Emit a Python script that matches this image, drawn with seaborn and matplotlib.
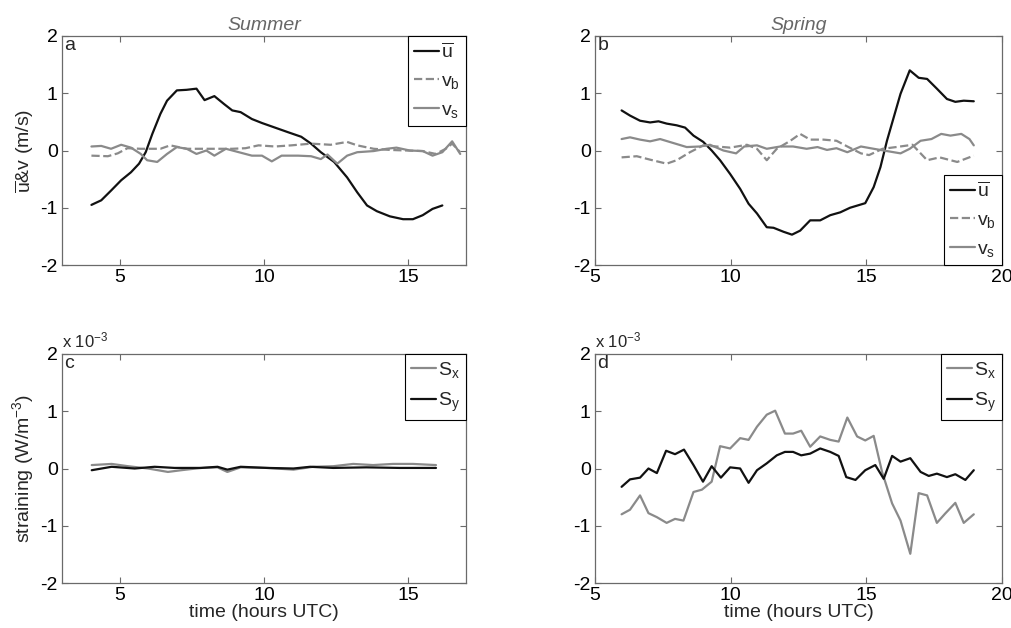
import matplotlib
matplotlib.use("Agg")
import matplotlib.pyplot as plt
import seaborn as sns
import numpy as np

# ---------------- data ----------------
# Panel a (Summer)
a_u_t = [4.02, 4.36, 4.70, 5.05, 5.39, 5.67, 5.90, 6.13, 6.41, 6.64, 6.98, 7.32, 7.66, 7.94, 8.28, 8.62,
         8.90, 9.19, 9.58, 9.93, 10.38, 10.83, 11.29, 11.63, 11.97, 12.43, 12.88, 13.23, 13.57, 13.91,
         14.36, 14.82, 15.16, 15.50, 15.84, 16.18]
a_u = [-0.95, -0.87, -0.70, -0.52, -0.38, -0.23, -0.03, 0.29, 0.64, 0.87, 1.05, 1.06, 1.08, 0.88, 0.95, 0.81,
       0.70, 0.67, 0.55, 0.48, 0.40, 0.32, 0.24, 0.12, -0.03, -0.20, -0.47, -0.73, -0.96, -1.06,
       -1.15, -1.20, -1.20, -1.13, -1.02, -0.96]
a_vb_t = [4.02, 4.59, 4.93, 5.27, 5.73, 6.41, 6.75, 7.32, 8.11, 8.90, 9.36, 9.81, 10.38, 10.95, 11.63, 12.31,
          12.88, 13.23, 13.80, 14.36, 14.93, 15.50, 15.95, 16.30, 16.52, 16.80]
a_vb = [-0.09, -0.10, -0.05, 0.04, 0.03, 0.03, 0.09, 0.03, 0.03, 0.03, 0.04, 0.09, 0.07, 0.09, 0.12, 0.10,
        0.15, 0.09, 0.03, 0.01, 0.00, -0.01, -0.06, 0.03, 0.12, -0.03]
a_vs_t = [4.02, 4.36, 4.70, 5.05, 5.39, 5.73, 5.95, 6.30, 6.64, 6.98, 7.32, 7.66, 8.00, 8.28, 8.68, 9.13,
          9.58, 9.93, 10.27, 10.61, 11.18, 11.63, 11.97, 12.20, 12.54, 12.88, 13.23, 13.80, 14.25, 14.59,
          15.05, 15.50, 15.84, 16.18, 16.52, 16.80]
a_vs = [0.07, 0.08, 0.03, 0.10, 0.05, -0.06, -0.17, -0.20, -0.06, 0.06, 0.03, -0.06, 0.00, -0.09, 0.03, -0.03,
        -0.09, -0.09, -0.19, -0.09, -0.09, -0.10, -0.15, -0.07, -0.23, -0.09, -0.03, -0.01, 0.03, 0.05,
        0.00, -0.01, -0.09, -0.03, 0.16, -0.06]

# Panel b (Spring)
b_u_t = [5.98, 6.29, 6.66, 7.03, 7.34, 7.64, 8.01, 8.32, 8.63, 8.99, 9.30, 9.61, 9.98, 10.35, 10.66, 10.97,
         11.33, 11.58, 11.95, 12.26, 12.56, 12.93, 13.30, 13.67, 14.04, 14.40, 14.96, 15.27, 15.52, 15.76,
         16.01, 16.26, 16.60, 16.93, 17.24, 17.60, 17.97, 18.28, 18.59, 18.96]
b_u = [0.70, 0.61, 0.52, 0.49, 0.51, 0.47, 0.44, 0.40, 0.26, 0.15, 0.00, -0.17, -0.41, -0.67, -0.93, -1.10,
       -1.34, -1.35, -1.42, -1.47, -1.40, -1.22, -1.22, -1.13, -1.08, -1.00, -0.92, -0.64, -0.29, 0.17,
       0.58, 0.99, 1.40, 1.27, 1.25, 1.08, 0.90, 0.85, 0.87, 0.86]
b_vb_t = [5.98, 6.54, 7.03, 7.64, 8.01, 8.50, 8.99, 9.48, 9.98, 10.60, 10.97, 11.33, 11.70, 12.20, 12.56,
          12.93, 13.42, 13.90, 14.30, 14.80, 15.10, 15.60, 16.10, 16.70, 17.24, 17.70, 18.35, 18.96]
b_vb = [-0.12, -0.10, -0.16, -0.23, -0.17, -0.03, 0.09, 0.07, 0.05, 0.10, 0.03, -0.17, 0.03, 0.17, 0.29,
        0.19, 0.19, 0.17, 0.07, -0.05, -0.08, 0.03, 0.06, 0.10, -0.17, -0.12, -0.20, -0.09]
b_vs_t = [5.98, 6.29, 6.66, 7.03, 7.40, 7.89, 8.38, 8.87, 9.24, 9.73, 10.20, 10.50, 10.97, 11.33, 11.83,
          12.30, 12.80, 13.20, 13.55, 13.90, 14.30, 14.80, 15.27, 15.76, 16.26, 16.60, 17.00, 17.40, 17.76,
          18.10, 18.50, 18.80, 18.96]
b_vs = [0.20, 0.23, 0.19, 0.16, 0.20, 0.13, 0.06, 0.07, 0.10, 0.00, -0.05, 0.07, 0.09, 0.03, 0.07,
        0.07, 0.03, 0.06, 0.01, 0.04, -0.03, 0.07, 0.03, -0.01, -0.05, 0.03, 0.17, 0.20, 0.29,
        0.26, 0.29, 0.20, 0.09]

# Panel c (Summer straining, x 10^-3)
c_sx_t = [4.03, 4.72, 5.29, 5.98, 6.67, 7.13, 7.82, 8.39, 8.73, 9.19, 10.11, 11.02, 11.71, 12.40, 13.09,
          13.78, 14.47, 15.16, 15.96]
c_sx = [0.06, 0.08, 0.04, 0.00, -0.06, -0.03, 0.01, 0.02, -0.06, 0.02, 0.01, -0.02, 0.03, 0.04, 0.08,
        0.06, 0.08, 0.08, 0.06]
c_sy_t = [4.03, 4.72, 5.52, 6.21, 6.90, 7.82, 8.39, 8.73, 9.19, 10.11, 11.02, 11.60, 12.40, 13.55, 14.70, 15.96]
c_sy = [-0.03, 0.03, 0.00, 0.03, 0.01, 0.01, 0.03, -0.02, 0.03, 0.01, 0.00, 0.03, 0.01, 0.02, 0.01, 0.01]

# Panel d (Spring straining, x 10^-3)
d_sx_t = [5.98, 6.29, 6.66, 6.97, 7.28, 7.64, 7.95, 8.26, 8.63, 8.94, 9.30, 9.61, 9.98, 10.35, 10.66, 10.97,
          11.33, 11.64, 12.00, 12.30, 12.60, 12.93, 13.30, 13.67, 13.98, 14.30, 14.66, 14.96, 15.27, 15.58,
          15.95, 16.26, 16.62, 16.93, 17.24, 17.60, 17.90, 18.28, 18.59, 18.96]
d_sx = [-0.80, -0.72, -0.47, -0.78, -0.85, -0.95, -0.88, -0.91, -0.41, -0.37, -0.23, 0.39, 0.35, 0.53, 0.50, 0.73,
        0.94, 1.01, 0.61, 0.61, 0.66, 0.38, 0.56, 0.50, 0.47, 0.89, 0.56, 0.49, 0.57, -0.06,
        -0.61, -0.91, -1.49, -0.43, -0.47, -0.95, -0.79, -0.60, -0.95, -0.80]
d_sy_t = [5.98, 6.29, 6.66, 6.97, 7.28, 7.62, 7.95, 8.28, 8.63, 8.98, 9.30, 9.64, 9.98, 10.35, 10.66, 10.97,
          11.33, 11.70, 12.00, 12.30, 12.60, 12.93, 13.30, 13.67, 13.98, 14.26, 14.60, 14.96, 15.33, 15.64,
          15.95, 16.26, 16.62, 17.00, 17.30, 17.60, 17.97, 18.28, 18.65, 18.96]
d_sy = [-0.32, -0.19, -0.16, 0.00, -0.08, 0.31, 0.25, 0.33, 0.06, -0.23, 0.04, -0.16, 0.02, 0.00, -0.25, -0.03,
        0.09, 0.23, 0.29, 0.29, 0.23, 0.26, 0.35, 0.29, 0.22, -0.15, -0.20, -0.03, 0.06, -0.18,
        0.22, 0.12, 0.18, -0.06, -0.13, -0.09, -0.15, -0.10, -0.20, -0.03]

titles = ["Summer", "Spring"]
panel_letters = ["a", "b", "c", "d"]
yticks = [-2, -1, 0, 1, 2]

# ---------------- style ----------------
sns.set_style("ticks")
plt.rcParams['font.family'] = ['Liberation Sans', 'DejaVu Sans']
plt.rcParams['mathtext.fontset'] = 'custom'
plt.rcParams['mathtext.rm'] = 'Liberation Sans'
plt.rcParams['mathtext.it'] = 'Liberation Sans:italic'
plt.rcParams['mathtext.bf'] = 'Liberation Sans:bold'
plt.rcParams['axes.unicode_minus'] = False

BLACK = "#111111"
GRAY = "#8a8a8a"
FRAME = "#6a6a6a"
FS = 14

fig = plt.figure(figsize=(10.12, 6.28), dpi=100)
W, H = 1012, 628

def make_ax(l, r, t, b):
    return fig.add_axes([l / W, 1 - b / H, (r - l) / W, (b - t) / H])

ax_a = make_ax(62, 466, 36, 265)
ax_b = make_ax(595, 1002, 36, 265)
ax_c = make_ax(62, 466, 354, 583)
ax_d = make_ax(595, 1002, 354, 583)

def line(ax, x, y, color, ls="-", label=None, lw=1.6):
    sns.lineplot(x=x, y=y, ax=ax, color=color, linestyle=ls, linewidth=lw,
                 label=label, sort=False, estimator=None)

ubar = r'$\overline{\mathrm{u}}$'
vb = r'v$_\mathrm{b}$'
vs = r'v$_\mathrm{s}$'
sx = r'S$_\mathrm{x}$'
sy = r'S$_\mathrm{y}$'

line(ax_a, a_u_t, a_u, BLACK, "-", ubar)
line(ax_a, a_vb_t, a_vb, GRAY, "--", vb)
line(ax_a, a_vs_t, a_vs, GRAY, "-", vs)

line(ax_b, b_u_t, b_u, BLACK, "-", ubar)
line(ax_b, b_vb_t, b_vb, GRAY, "--", vb)
line(ax_b, b_vs_t, b_vs, GRAY, "-", vs)

line(ax_c, c_sx_t, c_sx, GRAY, "-", sx)
line(ax_c, c_sy_t, c_sy, BLACK, "-", sy)

line(ax_d, d_sx_t, d_sx, GRAY, "-", sx)
line(ax_d, d_sy_t, d_sy, BLACK, "-", sy)

for ax, xl, xt in [(ax_a, (3, 17), [5, 10, 15]), (ax_b, (5, 20), [5, 10, 15, 20]),
                   (ax_c, (3, 17), [5, 10, 15]), (ax_d, (5, 20), [5, 10, 15, 20])]:
    ax.set_xlim(*xl)
    ax.set_ylim(-2, 2)
    ax.set_xticks(xt)
    ax.set_yticks(yticks)
    ax.tick_params(direction="in", length=4, width=0.8, colors=FRAME, labelcolor="black",
                   labelsize=FS, top=True, right=True, pad=3)
    for s in ax.spines.values():
        s.set_color(FRAME)
        s.set_linewidth(0.9)
    ax.set_xlabel("")
    ax.set_ylabel("")

for ax, letter in zip([ax_a, ax_b, ax_c, ax_d], panel_letters):
    ax.text(0.006, 0.995, letter, transform=ax.transAxes, ha="left", va="top", fontsize=FS)

ax_a.set_title(titles[0], fontsize=FS, style="italic", color="#666666", pad=4)
ax_b.set_title(titles[1], fontsize=FS, style="italic", color="#666666", pad=4)

ax_a.set_ylabel(ubar + "&v (m/s)", fontsize=FS, labelpad=3)
ax_c.set_ylabel(r"straining (W/m$^{-3}$)", fontsize=FS, labelpad=3)
ax_c.set_xlabel("time (hours UTC)", fontsize=FS, labelpad=0)
ax_d.set_xlabel("time (hours UTC)", fontsize=FS, labelpad=0)

for ax in [ax_c, ax_d]:
    ax.text(0.0, 1.03, r"x 10$^{-3}$", transform=ax.transAxes, ha="left", va="baseline", fontsize=12)

leg_kw = dict(frameon=True, fancybox=False, framealpha=1, edgecolor="black", fontsize=FS,
              handlelength=1.3, handletextpad=0.1, borderpad=0.3, labelspacing=0.55,
              borderaxespad=0.0)
for ax, loc in [(ax_a, "upper right"), (ax_b, "lower right"), (ax_c, "upper right"), (ax_d, "upper right")]:
    leg = ax.legend(loc=loc, **leg_kw)
    leg.get_frame().set_linewidth(0.8)

fig.savefig("out.png", dpi=100)
